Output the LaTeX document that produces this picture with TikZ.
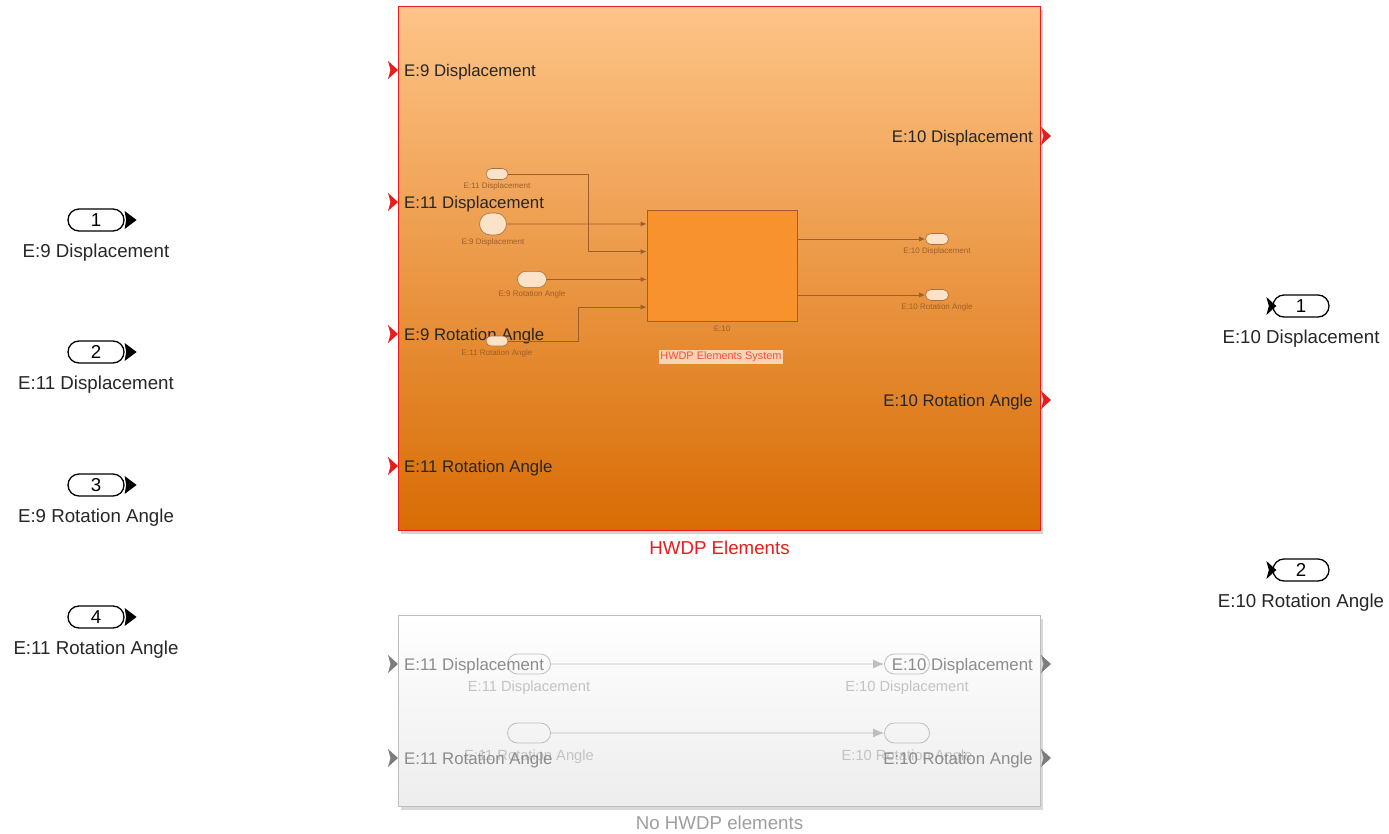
\documentclass[tikz,border=0pt]{standalone}
\usepackage{fontspec}
\setmainfont{Liberation Sans}
\usetikzlibrary{positioning,shapes.misc,arrows.meta,shadows}
\definecolor{hwdpred}{RGB}{232,28,28}
\definecolor{orangetop}{RGB}{254,196,136}
\definecolor{orangebot}{RGB}{216,108,4}
\definecolor{innerfill}{RGB}{247,146,44}
\definecolor{innerline}{RGB}{160,95,40}
\definecolor{pillfill}{RGB}{252,226,200}
\definecolor{pillline}{RGB}{170,110,60}
\definecolor{greyline}{RGB}{190,190,190}
\definecolor{greymark}{RGB}{125,125,125}
\definecolor{greytext}{RGB}{140,140,140}
\definecolor{paletext}{RGB}{195,195,195}
\definecolor{sysred}{RGB}{245,80,60}
\definecolor{sysfill}{RGB}{250,212,180}
\tikzset{x=1pt, y=-1pt, >=Latex, inner sep=0pt, font=\fontsize{16.8}{18}\selectfont}
\tikzset{portmark/.pic={\path[pic actions] (-10,-9) -- (0,0) -- (-10,9) -- (-7.5,0) -- cycle;}}
\tikzset{rootmark/.pic={\path[pic actions] (0,-9) -- (12,0) -- (0,9) -- (1.5,0) -- cycle;}}
\tikzstyle{subsys} = [draw, rectangle, anchor=north west, minimum width=642pt, line width=1pt]
\tikzstyle{rootport} = [draw, rounded rectangle, minimum width=56pt, minimum height=22pt, line width=1.3pt, font=\fontsize{18.7}{20}\selectfont]
\tikzstyle{rootlabel} = [font=\fontsize{18.7}{20}\selectfont, text=black!85]
\tikzstyle{portlabel} = [text=black!85]
\tikzstyle{tinyport} = [draw=pillline, fill=pillfill, rounded rectangle, line width=0.6pt]
\tikzstyle{tinylabel} = [font=\fontsize{8}{9}\selectfont, text=innerline]
\tikzstyle{tinywire} = [draw=innerline, line width=0.8pt, -{Latex[length=6pt,width=5pt]}]
\tikzstyle{greyport} = [draw=greyline, rounded rectangle, minimum height=20pt, line width=0.8pt]
\tikzstyle{greylabel} = [font=\fontsize{14.7}{16}\selectfont, text=paletext]
\tikzstyle{greywire} = [draw=greyline, line width=0.9pt, -{Latex[length=11pt,width=9pt]}]

\begin{document}
\begin{tikzpicture}
    \useasboundingbox (0,0) rectangle (1389,833);

    % root inports
    \node [rootport] (in1) at (96,220) {1};
    \node [rootlabel, below=12pt of in1] (in1lbl) {E:9 Displacement};
    \node [rootport] (in2) at (96,352) {2};
    \node [rootlabel, below=12pt of in2] (in2lbl) {E:11 Displacement};
    \node [rootport] (in3) at (96,485) {3};
    \node [rootlabel, below=12pt of in3] (in3lbl) {E:9 Rotation Angle};
    \node [rootport] (in4) at (96,617) {4};
    \node [rootlabel, below=12pt of in4] (in4lbl) {E:11 Rotation Angle};
    \foreach \p in {in1,in2,in3,in4}
        \pic [fill=black] at (\p.east) {rootmark};

    % root outports
    \node [rootport] (out1) at (1301,306) {1};
    \node [rootlabel, below=12pt of out1] (out1lbl) {E:10 Displacement};
    \node [rootport] (out2) at (1301,570) {2};
    \node [rootlabel, below=12pt of out2] (out2lbl) {E:10 Rotation Angle};
    \foreach \p in {out1,out2}
        \pic [fill=black] at ([xshift=4pt]\p.west) {portmark};

    % HWDP subsystem
    \node [subsys, draw=hwdpred, minimum height=524pt, top color=orangetop, bottom color=orangebot,
           drop shadow={shadow xshift=2pt, shadow yshift=-3pt, opacity=0.35}] (hwdp) at (398,6) {};
    \node [text=hwdpred, font=\fontsize{18.7}{20}\selectfont, below=10pt of hwdp] (hwdplbl) {HWDP Elements};
    \node [portlabel, anchor=west] (hin1) at (404,72) {E:9 Displacement};
    \node [portlabel, anchor=west] (hin2) at (404,204) {E:11 Displacement};
    \node [portlabel, anchor=west] (hin3) at (404,336) {E:9 Rotation Angle};
    \node [portlabel, anchor=west] (hin4) at (404,468) {E:11 Rotation Angle};
    \node [portlabel, anchor=east] (hout1) at (1033,138) {E:10 Displacement};
    \node [portlabel, anchor=east] (hout2) at (1033,402) {E:10 Rotation Angle};
    \foreach \y in {70,202,334,466}
        \pic [fill=hwdpred] at (398,\y) {portmark};
    \foreach \y in {136,400}
        \pic [fill=hwdpred] at (1051,\y) {portmark};

    % inside view of the HWDP subsystem
    \node [tinyport, minimum width=22pt, minimum height=11pt] (ie11d) at (497,174) {};
    \node [tinylabel, below=3pt of ie11d] (ie11dlbl) {E:11 Displacement};
    \node [tinyport, minimum width=27pt, minimum height=22pt] (ie9d) at (493,224) {};
    \node [tinylabel, below=3pt of ie9d] (ie9dlbl) {E:9 Displacement};
    \node [tinyport, minimum width=29pt, minimum height=16pt] (ie9r) at (532,279.4) {};
    \node [tinylabel, below=3pt of ie9r] (ie9rlbl) {E:9 Rotation Angle};
    \node [tinyport, minimum width=22pt, minimum height=10pt] (ie11r) at (497,341) {};
    \node [tinylabel, below=3pt of ie11r] (ie11rlbl) {E:11 Rotation Angle};
    \node [draw=innerline, fill=innerfill, minimum width=150pt, minimum height=111pt, line width=0.8pt] (e10blk) at (722,265.5) {};
    \node [tinylabel, below=4pt of e10blk] (e10lbl) {E:10};
    \node [tinyport, minimum width=23pt, minimum height=11pt] (oe10d) at (937,239) {};
    \node [tinylabel, below=3pt of oe10d] (oe10dlbl) {E:10 Displacement};
    \node [tinyport, minimum width=23pt, minimum height=11pt] (oe10r) at (937,295) {};
    \node [tinylabel, below=3pt of oe10r] (oe10rlbl) {E:10 Rotation Angle};
    \node [text=sysred, fill=sysfill, inner sep=1.5pt, font=\fontsize{10.9}{12}\selectfont] (syslbl) at (721,357) {HWDP Elements System};

    \draw [tinywire] (ie9d.east) -- ([yshift=41.6pt]e10blk.west);
    \draw [tinywire] (ie11d.east) -- ++(80,0) |- ([yshift=13.9pt]e10blk.west);
    \draw [tinywire] (ie9r.east) -- ([yshift=-13.9pt]e10blk.west);
    \draw [tinywire] (ie11r.east) -- ++(70,0) |- ([yshift=-41.6pt]e10blk.west);
    \draw [tinywire] (e10blk.east |- oe10d) -- (oe10d);
    \draw [tinywire] (e10blk.east |- oe10r) -- (oe10r);

    % No HWDP subsystem
    \node [subsys, draw=greyline, minimum height=191pt, top color=white, bottom color=black!7,
           drop shadow={shadow xshift=2pt, shadow yshift=-3pt, opacity=0.3}] (nohwdp) at (398,615) {};
    \node [text=black!38, font=\fontsize{18.7}{20}\selectfont, below=9pt of nohwdp] (nohwdplbl) {No HWDP elements};
    \node [greyport, minimum width=43pt] (gi11d) at (529,664) {};
    \node [greylabel, below=6pt of gi11d] (gi11dlbl) {E:11 Displacement};
    \node [greyport, minimum width=45pt] (go10d) at (907,664) {};
    \node [greylabel, below=6pt of go10d] (go10dlbl) {E:10 Displacement};
    \node [greyport, minimum width=43pt] (gi11r) at (529,733) {};
    \node [greylabel, below=6pt of gi11r] (gi11rlbl) {E:11 Rotation Angle};
    \node [greyport, minimum width=45pt] (go10r) at (907,733) {};
    \node [greylabel, below=6pt of go10r] (go10rlbl) {E:10 Rotation Angle};
    \draw [greywire] (gi11d) -- (go10d);
    \draw [greywire] (gi11r) -- (go10r);
    \node [text=greytext, anchor=west] (gin1) at (404,666) {E:11 Displacement};
    \node [text=greytext, anchor=west] (gin2) at (404,760) {E:11 Rotation Angle};
    \node [text=greytext, anchor=east] (gout1) at (1033,666) {E:10 Displacement};
    \node [text=greytext, anchor=east] (gout2) at (1033,760) {E:10 Rotation Angle};
    \foreach \y in {664,758}
        \pic [fill=greymark] at (398,\y) {portmark};
    \foreach \y in {664,758}
        \pic [fill=greymark] at (1051,\y) {portmark};
\end{tikzpicture}
\end{document}
